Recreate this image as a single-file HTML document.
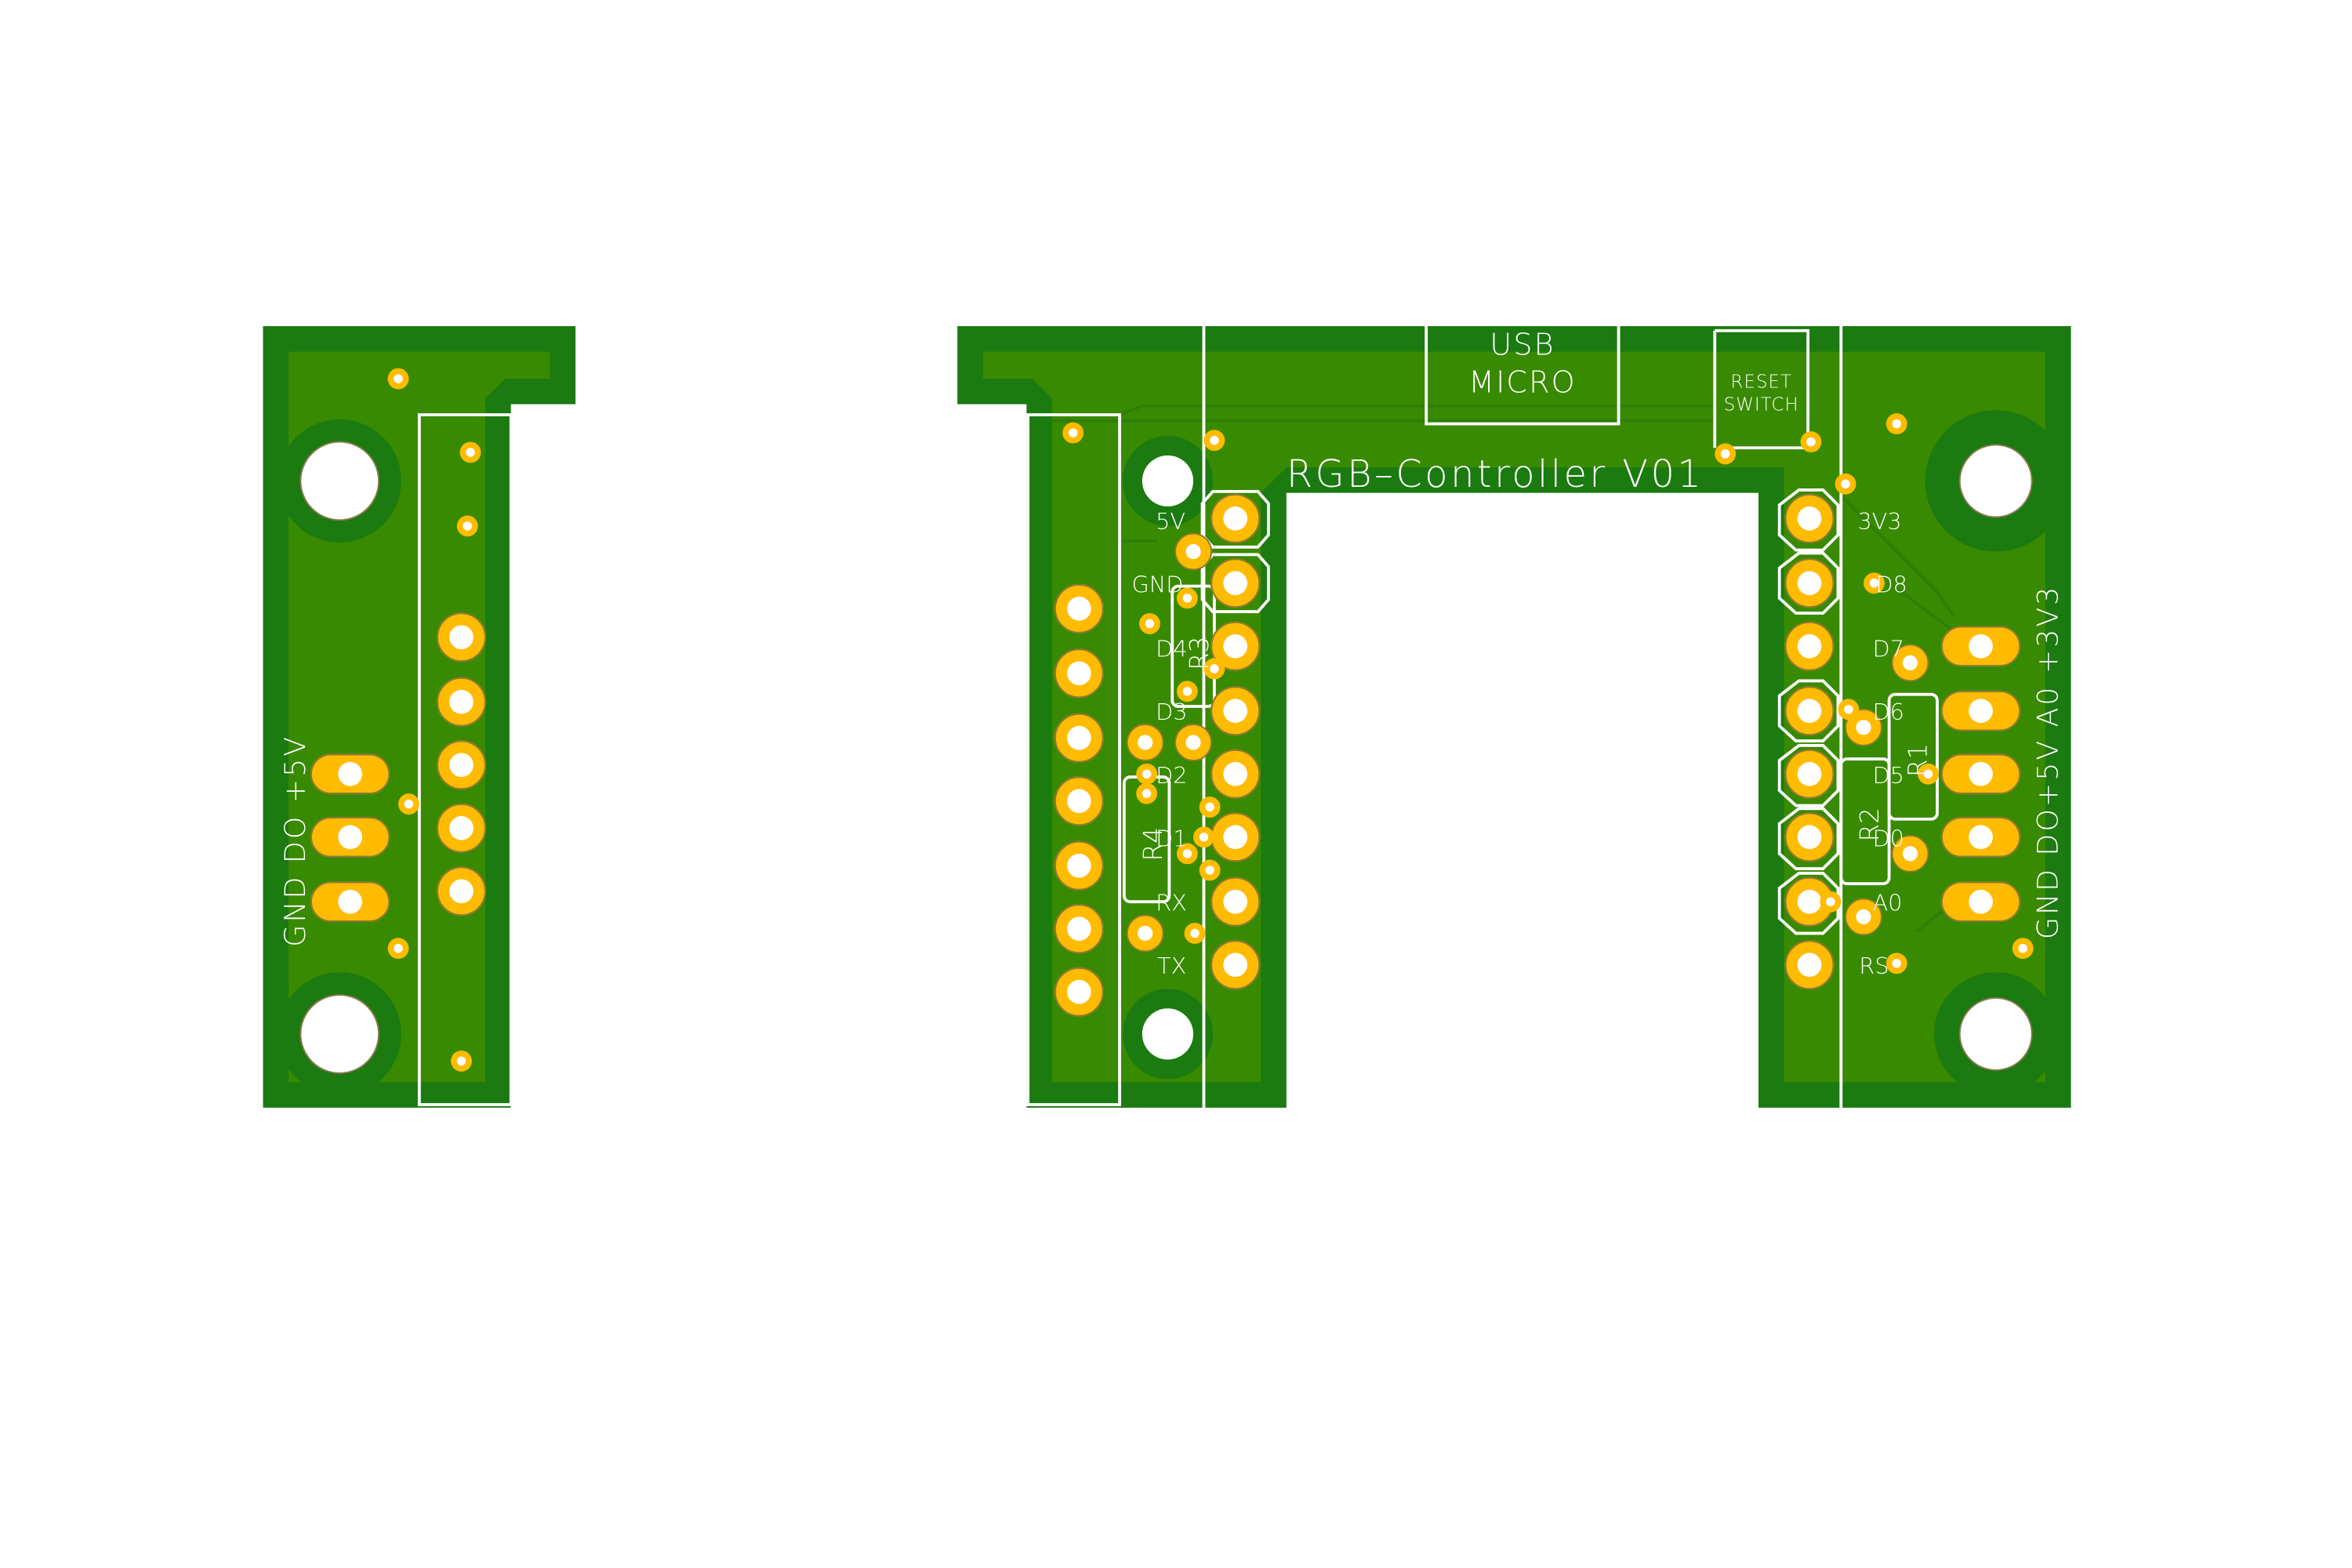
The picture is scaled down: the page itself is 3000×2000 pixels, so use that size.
<!DOCTYPE html>
<html><head><meta charset="utf-8"><style>
html,body{margin:0;padding:0;background:#fff;width:3000px;height:2000px;overflow:hidden}
svg{display:block}
text{font-family:"DejaVu Sans","Liberation Sans",sans-serif;fill:#fff;font-weight:300}
</style></head><body>
<svg width="3000" height="2000" viewBox="0 0 1565 1043.3" preserveAspectRatio="none" xmlns="http://www.w3.org/2000/svg">
<defs>
<g id="pad"><circle r="16" fill="#ffbb00" stroke="#8a7a30" stroke-width="1.2"/><circle r="8" fill="#fff"/></g>
<g id="spad"><circle r="12" fill="#ffbb00" stroke="#8a7a30" stroke-width="1"/><circle r="5" fill="#fff"/></g>
<g id="via"><circle r="7" fill="#ffbb00"/><circle r="3" fill="#fff"/></g>
<g id="oval"><rect x="-26" y="-13" width="52" height="26" rx="13" fill="#ffbb00" stroke="#8a7a30" stroke-width="1.2"/><circle r="8" fill="#fff"/></g>
</defs>
<polygon points="175,217 383,217 383,269 340,269 340,737 175,737" fill="#1b7a10"/>
<polygon points="637,217 1378,217 1378,737 1170,737 1170,328 856,328 856,737 683,737 683,269 637,269" fill="#1b7a10"/>
<polygon points="192,234 366,234 366,252 336,252 323,265 323,720 192,720" fill="#388a00"/>
<polygon points="654,234 1361,234 1361,720 1187,720 1187,311 856,311 839,328 839,720 700,720 700,265 687,252 654,252" fill="#388a00"/>
<circle cx="226" cy="320" r="41" fill="#1b7a10"/><circle cx="226" cy="688" r="41" fill="#1b7a10"/>
<circle cx="1328" cy="320" r="47" fill="#1b7a10"/><circle cx="1328" cy="688" r="41" fill="#1b7a10"/>
<circle cx="777" cy="320" r="30" fill="#1b7a10"/><circle cx="777" cy="688" r="30" fill="#1b7a10"/>
<circle cx="226" cy="320" r="26" fill="#fff" stroke="#8a7a50"/><circle cx="226" cy="688" r="26" fill="#fff" stroke="#8a7a50"/>
<circle cx="1328" cy="320" r="24" fill="#fff" stroke="#8a7a50"/><circle cx="1328" cy="688" r="24" fill="#fff" stroke="#8a7a50"/>
<circle cx="777" cy="320" r="17" fill="#fff"/><circle cx="777" cy="688" r="17" fill="#fff"/>
<g stroke="#2f7f06" stroke-width="2" fill="none">
<path d="M745,276 L760,270 L1140,270"/><path d="M745,285 L745,360 L770,360"/>
<path d="M700,280 L1140,280"/><path d="M1225,330 L1290,395 L1300,410"/>
<path d="M1260,390 L1300,420"/><path d="M1275,620 L1300,600"/>
</g>
<rect x="383" y="210" width="254" height="59" fill="#fff"/>
<rect x="340" y="269" width="343" height="475" fill="#fff"/>
<rect x="856" y="328" width="314" height="415" fill="#fff"/>
<g stroke="#fff" stroke-width="2" fill="none">
<rect x="279" y="276" width="61" height="459"/>
<rect x="684" y="276" width="61" height="459"/>
<line x1="801" y1="217" x2="801" y2="737"/>
<line x1="1225" y1="217" x2="1225" y2="737"/>
<rect x="949" y="210" width="128" height="72"/>
<path d="M1141,220 L1203,220 L1203,298 L1148,298"/><line x1="1141" y1="220" x2="1141" y2="298"/>
<rect x="780" y="390" width="28" height="80" rx="4"/>
<rect x="748" y="517" width="30" height="83" rx="4"/>
<rect x="1225" y="505" width="32" height="83" rx="4"/>
<rect x="1257" y="462" width="32" height="83" rx="4"/>
<path d="M822,327 L837,327 L844,335 L844,356 L837,364 L807,364 L800,356 L800,335 L807,327 Z"/>
<path d="M822,369 L837,369 L844,377 L844,399 L837,407 L807,407 L800,399 L800,377 L807,369 Z"/>
<g id="hdr"><path d="M1197,326 L1213,326 L1223,336 L1223,356 L1213,366 L1195,366 L1184,356 L1184,336 Z"/></g>
<use href="#hdr" y="42"/><use href="#hdr" y="127"/><use href="#hdr" y="170"/><use href="#hdr" y="212"/><use href="#hdr" y="255"/>
</g>
<g>
<use href="#pad" x="307" y="424"/><use href="#pad" x="307" y="467"/><use href="#pad" x="307" y="509"/><use href="#pad" x="307" y="551"/><use href="#pad" x="307" y="593"/>
<use href="#oval" x="233" y="515"/><use href="#oval" x="233" y="557"/><use href="#oval" x="233" y="600"/>
<use href="#pad" x="718" y="405"/><use href="#pad" x="718" y="448"/><use href="#pad" x="718" y="491"/><use href="#pad" x="718" y="533"/><use href="#pad" x="718" y="576"/><use href="#pad" x="718" y="618"/><use href="#pad" x="718" y="660"/>
<use href="#pad" x="822" y="345"/><use href="#pad" x="822" y="388"/><use href="#pad" x="822" y="430"/><use href="#pad" x="822" y="473"/><use href="#pad" x="822" y="515"/><use href="#pad" x="822" y="557"/><use href="#pad" x="822" y="600"/><use href="#pad" x="822" y="642"/>
<use href="#pad" x="1204" y="345"/><use href="#pad" x="1204" y="388"/><use href="#pad" x="1204" y="430"/><use href="#pad" x="1204" y="473"/><use href="#pad" x="1204" y="515"/><use href="#pad" x="1204" y="557"/><use href="#pad" x="1204" y="600"/><use href="#pad" x="1204" y="642"/>
<use href="#oval" x="1318" y="430"/><use href="#oval" x="1318" y="473"/><use href="#oval" x="1318" y="515"/><use href="#oval" x="1318" y="557"/><use href="#oval" x="1318" y="600"/>
<use href="#spad" x="794" y="367"/><use href="#spad" x="762" y="494"/><use href="#spad" x="794" y="494"/><use href="#spad" x="762" y="621"/>
<use href="#spad" x="1271" y="441"/><use href="#spad" x="1240" y="484"/><use href="#spad" x="1271" y="568"/><use href="#spad" x="1240" y="610"/>
<use href="#via" x="265" y="252"/><use href="#via" x="313" y="301"/><use href="#via" x="311" y="350"/><use href="#via" x="272" y="535"/><use href="#via" x="265" y="631"/><use href="#via" x="307" y="706"/>
<use href="#via" x="808" y="293"/><use href="#via" x="714" y="288"/><use href="#via" x="790" y="398"/><use href="#via" x="765" y="415"/><use href="#via" x="808" y="445"/><use href="#via" x="790" y="460"/><use href="#via" x="763" y="515"/><use href="#via" x="763" y="528"/><use href="#via" x="805" y="537"/><use href="#via" x="801" y="557"/><use href="#via" x="790" y="568"/><use href="#via" x="805" y="579"/><use href="#via" x="795" y="621"/>
<use href="#via" x="1262" y="282"/><use href="#via" x="1228" y="322"/><use href="#via" x="1247" y="388"/><use href="#via" x="1283" y="515"/><use href="#via" x="1346" y="631"/><use href="#via" x="1262" y="641"/><use href="#via" x="1148" y="302"/><use href="#via" x="1205" y="294"/><use href="#via" x="1218" y="600"/><use href="#via" x="1230" y="472"/>
</g>
<g font-size="15">
<text x="769" y="352">5V</text><text x="753" y="394">GND</text><text x="769" y="437">D4</text><text x="769" y="479">D3</text><text x="769" y="521">D2</text><text x="769" y="563">D1</text><text x="769" y="606">RX</text><text x="770" y="648">TX</text>
<text x="1236" y="352">3V3</text><text x="1248" y="394">D8</text><text x="1246" y="437">D7</text><text x="1246" y="479">D6</text><text x="1246" y="521">D5</text><text x="1246" y="563">D0</text><text x="1246" y="606">A0</text><text x="1237" y="648">RS</text>
</g>
<text x="856" y="324" font-size="25" letter-spacing="1.8">RGB–Controller V01</text>
<text x="1013" y="236" font-size="20" text-anchor="middle" letter-spacing="1">USB</text>
<text x="1013" y="261" font-size="20" text-anchor="middle" letter-spacing="1">MICRO</text>
<text x="1172" y="258" font-size="12" text-anchor="middle" letter-spacing="0.5">RESET</text>
<text x="1172" y="273" font-size="12" text-anchor="middle" letter-spacing="0.5">SWITCH</text>
<text transform="translate(804,446) rotate(-90)" font-size="17">R3</text>
<text transform="translate(773,573) rotate(-90)" font-size="17">R4</text>
<text transform="translate(1250,560) rotate(-90)" font-size="17">R2</text>
<text transform="translate(1282,517) rotate(-90)" font-size="17">R1</text>
<text transform="translate(203,630) rotate(-90)" font-size="19" letter-spacing="1.5">GND DO +5V</text>
<text transform="translate(1369,625) rotate(-90)" font-size="19" letter-spacing="1.5">GND DO+5V A0 +3V3</text>
</svg>
</body></html>
